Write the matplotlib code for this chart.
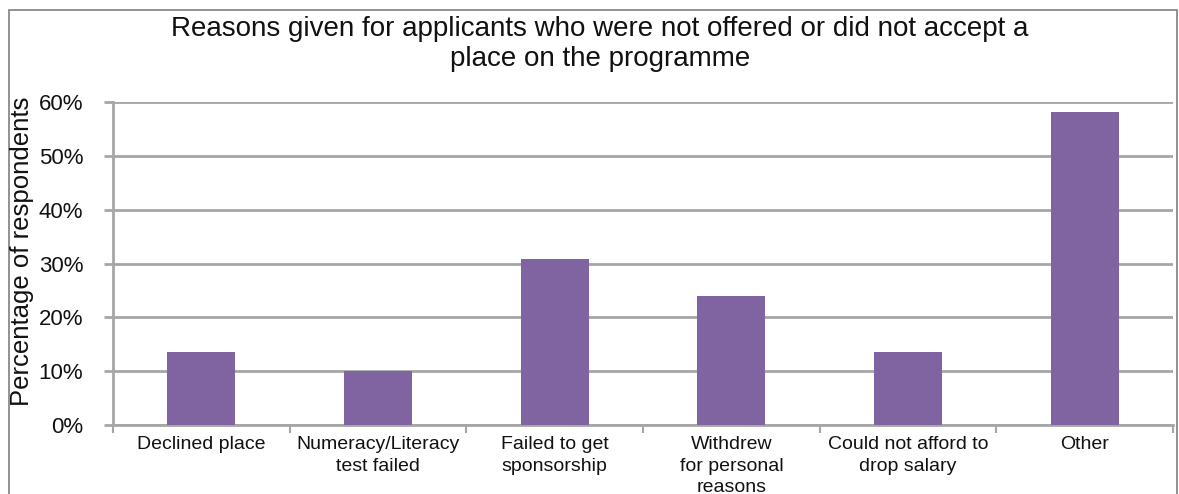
import matplotlib
matplotlib.use("Agg")
import matplotlib.pyplot as plt
from matplotlib.patches import Rectangle
from matplotlib.ticker import FuncFormatter
import numpy as np

categories = ["Declined place", "Numeracy/Literacy\ntest failed", "Failed to get\nsponsorship",
              "Withdrew\nfor personal\nreasons", "Could not afford to\ndrop salary", "Other"]
values = [13.6, 10.0, 30.9, 24.0, 13.6, 58.2]
yticks = [0, 10, 20, 30, 40, 50, 60]
title = "Reasons given for applicants who were not offered or did not accept a\nplace on the programme"
ylabel = "Percentage of respondents"

plt.rcParams['font.family'] = ['Liberation Sans', 'DejaVu Sans']

W, H = 1179, 494
fig = plt.figure(figsize=(W / 100, H / 100), dpi=100)
fig.patch.set_facecolor("white")

# figure frame
fig.patches.append(Rectangle((9 / W, 0 - 0.01), (1177 - 9) / W, (H - 10) / H + 0.01,
                             transform=fig.transFigure, fill=False, edgecolor="#7f7f7f",
                             linewidth=1.2, zorder=0))

ax = fig.add_axes([113 / W, (H - 425) / H, (1173 - 113) / W, (425 - 102) / H])
x = np.arange(len(categories))
ax.bar(x, values, width=0.385, color="#8064A2", zorder=3)
ax.set_xlim(-0.5, len(categories) - 0.5)
ax.set_ylim(0, 60)
ax.set_yticks(yticks)
ax.yaxis.set_major_formatter(FuncFormatter(lambda v, p: f"{int(v)}%"))
ax.grid(axis="y", color="#a6a6a6", linewidth=2.0, zorder=0)
for s in ["top", "right"]:
    ax.spines[s].set_visible(False)
ax.spines["left"].set_color("#a6a6a6")
ax.spines["left"].set_linewidth(2.0)
ax.spines["bottom"].set_color("#a6a6a6")
ax.spines["bottom"].set_linewidth(2.0)
ax.tick_params(axis="y", length=6.5, width=2, color="#a6a6a6", pad=15, labelsize=16, labelcolor="#111111")

ax.set_xticks(x)
ax.set_xticklabels(categories, fontsize=14, linespacing=1.35)
ax.set_xticks(np.arange(len(categories) + 1) - 0.5, minor=True)
ax.tick_params(axis="x", which="major", length=0, pad=8, labelcolor="#111111")
ax.tick_params(axis="x", which="minor", length=6, width=1.5, color="#a6a6a6")

fig.text(600 / W, 1 - 44 / H, title, ha="center", va="center", fontsize=20, linespacing=1.2, color="#111111")
fig.text(22 / W, 1 - 251 / H, ylabel, rotation=90, ha="center", va="center", fontsize=18.5, color="#111111")

fig.savefig("out.png", dpi=100, facecolor="white")
